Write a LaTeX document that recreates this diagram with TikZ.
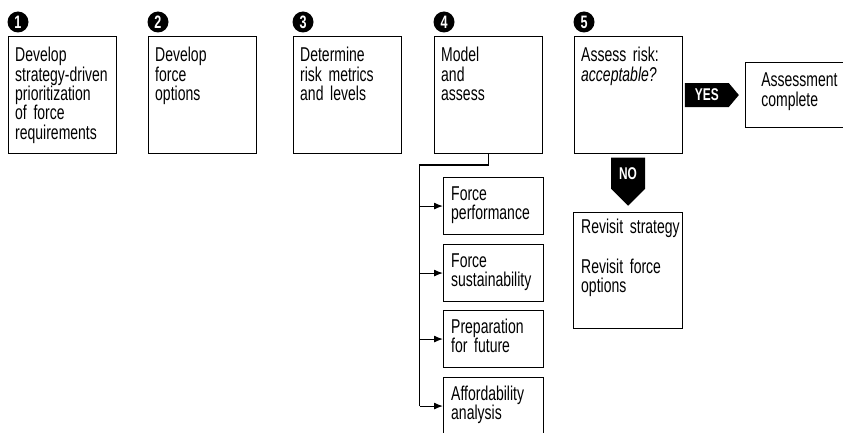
\documentclass[tikz,border=0pt]{standalone}
\usepackage{fontspec}
\setmainfont{Liberation Sans}[FakeStretch=0.7]
\usetikzlibrary{shapes.arrows,arrows.meta}

\tikzset{
  stepbox/.style={draw, line width=1.1pt, minimum width=108pt, minimum height=117pt, anchor=north west, inner sep=0pt},
  subbox/.style={draw, line width=1.1pt, minimum width=100pt, minimum height=57pt, anchor=north west, inner sep=0pt},
  boxtext/.style={anchor=base west, inner sep=0pt, text width=104pt, align=left, font=\fontsize{20}{19.3}\selectfont},
  num/.style={circle, fill=black, text=white, minimum size=21pt, inner sep=0pt, font=\fontsize{18}{18}\selectfont\bfseries},
  decision/.style={single arrow, fill=black, text=white, single arrow head extend=0pt, inner sep=0pt, font=\fontsize{17}{17}\selectfont\bfseries},
  feed/.style={line width=1.1pt, -{Latex[length=9pt,width=7pt]}},
}

\begin{document}
\begin{tikzpicture}[x=1pt,y=-1pt]
\useasboundingbox (0,0) rectangle (843,433);
% the five steps
\node[stepbox] (b1) at (8,36) {};
\node[stepbox] (b2) at (148,36) {};
\node[stepbox] (b3) at (293,36) {};
\node[stepbox] (b4) at (434,36) {};
\node[stepbox] (b5) at (574,36) {};
\foreach \b/\n in {b1/1,b2/2,b3/3,b4/4,b5/5}
  \node[num] (n\n) at ([shift={(10,-14)}]\b.north west) {\n};
\node[boxtext] (t1) at ([shift={(7,26)}]b1.north west) {Develop\\strategy-driven\\prioritization\\of force\\requirements};
\node[boxtext] (t2) at ([shift={(7,26)}]b2.north west) {Develop\\force\\options};
\node[boxtext] (t3) at ([shift={(7,26)}]b3.north west) {Determine\\risk metrics\\and levels};
\node[boxtext] (t4) at ([shift={(7,26)}]b4.north west) {Model\\and\\assess};
\node[boxtext] (t5) at ([shift={(7,26)}]b5.north west) {Assess risk:\\\textit{acceptable?}};

% what step 4 looks at
\node[subbox] (s1) at (443,177) {};
\node[subbox] (s2) at (443,244) {};
\node[subbox] (s3) at (443,310) {};
\node[subbox] (s4) at (443,377) {};
\node[boxtext] (u1) at ([shift={(8,23)}]s1.north west) {Force\\performance};
\node[boxtext] (u2) at ([shift={(8,23)}]s2.north west) {Force\\sustainability};
\node[boxtext] (u3) at ([shift={(8,23)}]s3.north west) {Preparation\\for future};
\node[boxtext] (u4) at ([shift={(8,23)}]s4.north west) {Affordability\\analysis};
\coordinate (bus) at (419.5,165);
\draw[line width=1.1pt] (b4.south) |- (bus) -- (bus |- s4.west);
\foreach \s in {s1,s2,s3,s4}
  \draw[feed] (bus |- \s.west) -- (\s.west);

% outcome of step 5
\node[draw, line width=1.1pt, minimum width=99pt, minimum height=65pt, anchor=west, inner sep=0pt] (done) at ([xshift=62pt]b5.east) {};
\node[boxtext] (d1) at ([shift={(16,25)}]done.north west) {Assessment\\complete};
\node[stepbox, minimum width=109pt, minimum height=116pt] (rv) at (573,212) {};
\node[boxtext] (r1) at ([shift={(8,21)}]rv.north west) {Revisit strategy\\[21pt]Revisit force\\options};
\node[decision, minimum height=54pt, minimum width=24pt, single arrow tip angle=100, anchor=tip] (yes) at ([xshift=56pt]b5.east) {YES};
\node[decision, shape border rotate=270, minimum height=48pt, minimum width=34pt, single arrow tip angle=90, anchor=tip] (no) at ([yshift=6pt]rv.north) {NO};
\end{tikzpicture}
\end{document}
